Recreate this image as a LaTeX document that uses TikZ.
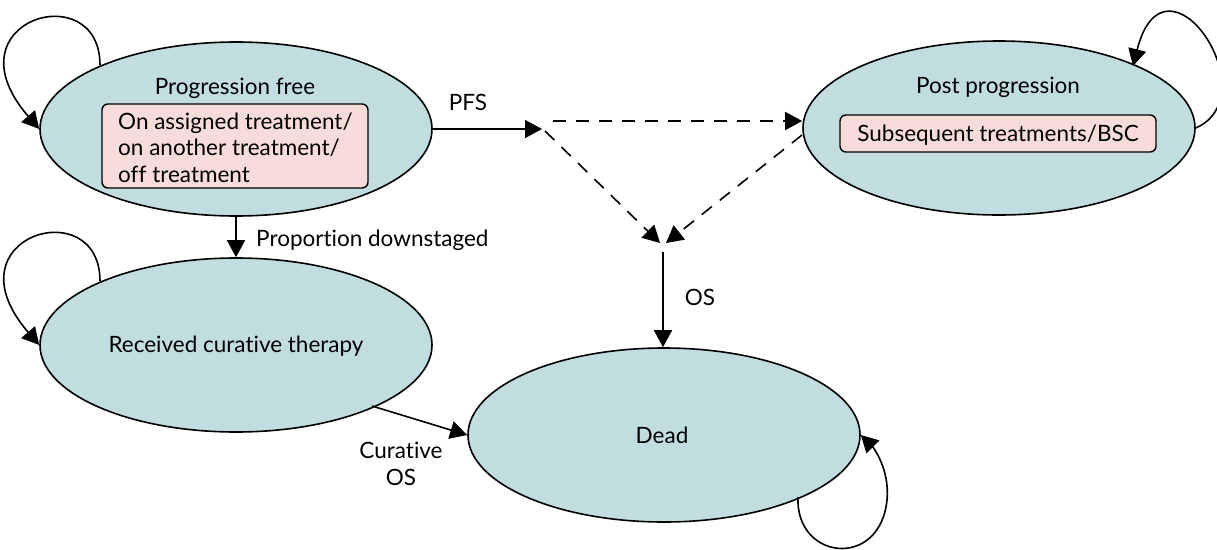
\documentclass[tikz,border=0pt]{standalone}
\usepackage{fontspec}
\setmainfont{Lato}[Ligatures=NoCommon]
\usetikzlibrary{shapes.geometric,arrows.meta}
\definecolor{stfill}{HTML}{C2DDE0}
\definecolor{boxfill}{HTML}{F7DCD9}
\begin{document}
\begin{tikzpicture}[x=1pt,y=-1pt,
  state/.style={ellipse, draw, line width=1.6pt, fill=stfill, minimum width=392pt, minimum height=174pt, inner sep=0pt},
  subbox/.style={draw, line width=1.4pt, fill=boxfill, rounded corners=6pt, inner sep=0pt},
  lbl/.style={font=\fontsize{22.5}{26.5}\selectfont, inner sep=0pt},
  arr/.style={line width=1.6pt, -{Triangle[length=17pt,width=18pt]}},
  dsh/.style={arr, dash pattern=on 13pt off 10pt},
  selfloop/.style={arr}
]
\useasboundingbox (0,0) rectangle (1217,549);

% states
\node[state] (pf) at (236,129) {};
\node[state] (pp) at (999,128) {};
\node[state] (rct) at (236,345) {};
\node[state] (dead) at (664,435) {};

% sub boxes
\node[subbox, minimum width=266pt, minimum height=84pt] (pfbox) at (235,146) {};
\node[subbox, minimum width=316pt, minimum height=37pt] (ppbox) at (998,133.5) {};

% texts
\node[lbl, anchor=base] (pft) at (235,94) {Progression free};
\node[lbl, anchor=base west] (pfb1) at (118,129) {On assigned treatment/};
\node[lbl, anchor=base west] (pfb2) at (118,155.5) {on another treatment/};
\node[lbl, anchor=base west] (pfb3) at (118,182) {off treatment};
\node[lbl, anchor=base] (ppt) at (998,93) {Post progression};
\node[lbl, anchor=base] (ppbt) at (998,141) {Subsequent treatments/BSC};
\node[lbl, anchor=base] (rctt) at (236,352) {Received curative therapy};
\node[lbl, anchor=base] (deadt) at (662,443) {Dead};

% edge labels
\node[lbl, anchor=base] (pfsl) at (468,110) {PFS};
\node[lbl, anchor=base west] (pdl) at (256,246) {Proportion downstaged};
\node[lbl, anchor=base] (osl) at (700,305) {OS};
\node[lbl, anchor=base] (cosl1) at (401,458) {Curative};
\node[lbl, anchor=base] (cosl2) at (401,485) {OS};

% junction coordinates
\coordinate (pfsend) at (542,129);
\coordinate (d1) at (553,121);
\coordinate (d2) at (545,131);
\coordinate (m1) at (660,243);
\coordinate (m2) at (666,243);
\coordinate (ppd) at (802,135);
\coordinate (oss) at (663,252);

% connectors
\draw[arr] (pf.east) -- (pfsend);
\draw[dsh] (d1) -- (pp.west |- d1);
\draw[dsh] (d2) -- (m1);
\draw[dsh] (ppd) -- (m2);
\draw[arr] (oss) -- (oss |- dead.north);
\draw[arr] (pf.south) -- (rct.north);
\coordinate (rctout) at (372,406);
\draw[arr] (rctout) -- (dead.west);

% self loops
\coordinate (pfl) at (100,65);
\draw[selfloop] (pfl) .. controls (100,-25) and (-55,20) .. (pf.west);
\coordinate (rctl) at (100,281);
\draw[selfloop] (rctl) .. controls (100,191) and (-55,236) .. (rct.west);
\coordinate (ppl) at (pp.east);
\coordinate (ppin) at (1133,66);
\draw[selfloop] (ppl) .. controls (1270,95) and (1165,-60) .. (ppin);
\coordinate (deadl) at (798,497);
\draw[selfloop] (deadl) .. controls (795,560) and (880,570) .. (887,500) .. controls (890,468) and (872,446) .. (dead.east);
\end{tikzpicture}
\end{document}
